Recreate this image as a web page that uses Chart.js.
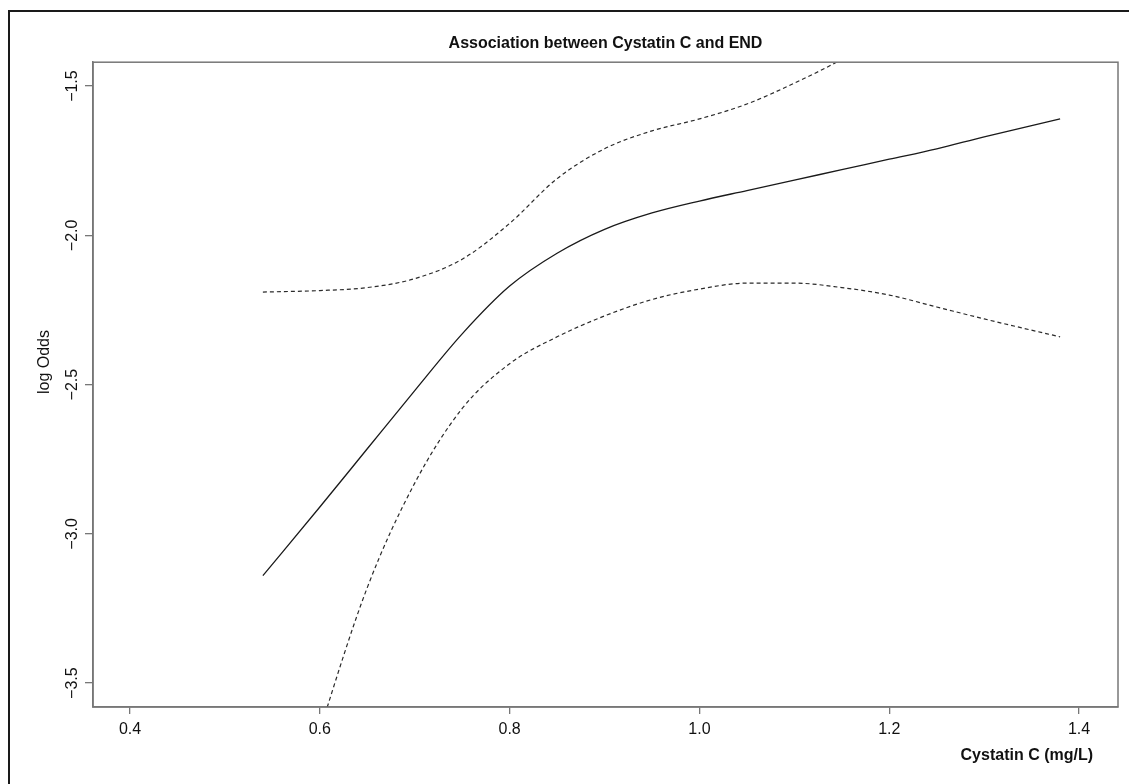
<!DOCTYPE html>
<html>
<head>
<meta charset="utf-8">
<title>Association between Cystatin C and END</title>
<script src="https://cdn.jsdelivr.net/npm/chart.js@4.4.1/dist/chart.umd.min.js"></script>
<style>
    body { margin: 0; background: #fff; }
    #wrap { width: 1129px; height: 784px; }
</style>
</head>
<body>
<div id="wrap"><canvas id="line-chart" width="1129" height="784"></canvas></div>
<script>
// valores
var cystatin = [0.54, 0.60, 0.65, 0.70, 0.75, 0.80, 0.85, 0.90, 0.95, 1.00, 1.05, 1.10, 1.15, 1.20, 1.25, 1.30, 1.38];
var logOdds  = [-3.14, -2.91, -2.715, -2.52, -2.33, -2.17, -2.06, -1.98, -1.925, -1.885, -1.85, -1.815, -1.78, -1.745, -1.71, -1.67, -1.61];
var upperCI  = [-2.19, -2.185, -2.175, -2.145, -2.08, -1.96, -1.81, -1.71, -1.65, -1.61, -1.56, -1.49, -1.41, -1.31, -1.20, -1.08, -0.88];
var lowerCI  = [-4.30, -3.66, -3.18, -2.83, -2.58, -2.43, -2.34, -2.27, -2.215, -2.18, -2.16, -2.16, -2.175, -2.20, -2.24, -2.28, -2.34];

var xTicks = [0.4, 0.6, 0.8, 1.0, 1.2, 1.4];
var yTicks = [-3.5, -3.0, -2.5, -2.0, -1.5];

var titulo = 'Association between Cystatin C and END';
var xLabel = 'Cystatin C (mg/L)';
var yLabel = 'log Odds';

function puntos(ys) {
    var out = [];
    for (var i in cystatin) {
        out.push({x: cystatin[i], y: ys[i]});
    }
    return out;
}

function menos(v) {
    return v.toFixed(1).replace('-', '\u2212');
}

// caja del grafico, marco exterior y titulos de ejes
var marco = {
    id: 'marco',
    afterDraw: function (chart) {
        var ctx = chart.ctx;
        var a = chart.chartArea;
        ctx.save();
        ctx.strokeStyle = '#777';
        ctx.lineWidth = 1.5;
        ctx.strokeRect(a.left, a.top, a.right - a.left, a.bottom - a.top);

        ctx.strokeStyle = '#1a1a1a';
        ctx.lineWidth = 2;
        ctx.beginPath();
        ctx.moveTo(9, 784);
        ctx.lineTo(9, 11);
        ctx.lineTo(1129, 11);
        ctx.stroke();

        ctx.fillStyle = '#111';
        ctx.font = 'bold 16px "Liberation Sans", Arial, sans-serif';
        ctx.textAlign = 'right';
        ctx.textBaseline = 'middle';
        ctx.fillText(xLabel, 1093, 756);

        ctx.font = '16px "Liberation Sans", Arial, sans-serif';
        ctx.translate(45, 362);
        ctx.rotate(-Math.PI / 2);
        ctx.textAlign = 'center';
        ctx.fillText(yLabel, 0, 0);
        ctx.restore();
    }
};

Chart.defaults.font.family = '"Liberation Sans", Arial, sans-serif';
Chart.defaults.font.size = 16;
Chart.defaults.color = '#111';

new Chart(document.getElementById('line-chart'), {
    type: 'line',
    data: {
        datasets: [{
            data: puntos(logOdds),
            borderColor: '#1a1a1a',
            borderWidth: 1.3
        }, {
            data: puntos(upperCI),
            borderColor: '#2a2a2a',
            borderWidth: 1.2,
            borderDash: [4, 3]
        }, {
            data: puntos(lowerCI),
            borderColor: '#2a2a2a',
            borderWidth: 1.2,
            borderDash: [4, 3]
        }]
    },
    options: {
        responsive: false,
        animation: false,
        cubicInterpolationMode: 'monotone',
        pointRadius: 0,
        layout: {
            padding: {left: 0, right: 11, top: 0, bottom: 0}
        },
        plugins: {
            legend: {display: false},
            tooltip: {enabled: false},
            title: {
                display: true,
                fullSize: false,
                text: titulo,
                color: '#111',
                font: {size: 16, weight: 'bold'},
                padding: {top: 34, bottom: 9}
            }
        },
        scales: {
            x: {
                type: 'linear',
                min: 0.361,
                max: 1.441,
                afterFit: function (scale) { scale.height = 77; },
                afterBuildTicks: function (scale) {
                    scale.ticks = xTicks.map(function (v) { return {value: v}; });
                },
                ticks: {
                    padding: 6,
                    maxRotation: 0,
                    autoSkip: false,
                    callback: function (v) { return menos(v); }
                },
                grid: {drawOnChartArea: false, drawTicks: true, tickLength: 7, color: '#777', lineWidth: 1.3},
                border: {display: true, color: '#777', width: 1.5}
            },
            y: {
                type: 'linear',
                min: -3.58,
                max: -1.42,
                afterFit: function (scale) { scale.width = 93; },
                afterBuildTicks: function (scale) {
                    scale.ticks = yTicks.map(function (v) { return {value: v}; });
                },
                ticks: {
                    padding: -3,
                    minRotation: 90,
                    maxRotation: 90,
                    crossAlign: 'center',
                    autoSkip: false,
                    callback: function (v) { return menos(v); }
                },
                grid: {drawOnChartArea: false, drawTicks: true, tickLength: 8, color: '#777', lineWidth: 1.3},
                border: {display: true, color: '#777', width: 1.5}
            }
        }
    },
    plugins: [marco]
});
</script>
</body>
</html>
